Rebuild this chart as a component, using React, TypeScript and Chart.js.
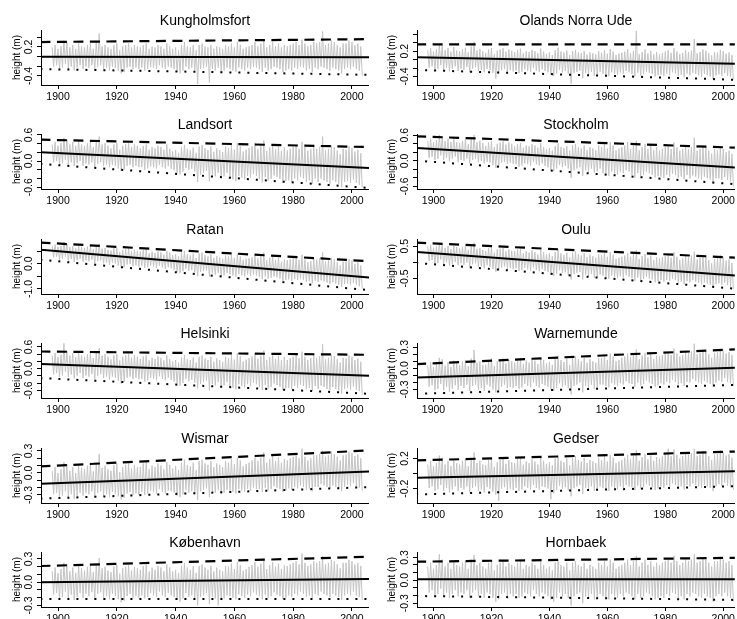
import React, { useEffect, useRef } from "react";
import { Chart, registerables } from "chart.js";

Chart.register(...registerables);

const FONT = '"Liberation Sans", Arial, Helvetica, sans-serif';

const STATIONS = [
  "Kungholmsfort", "Olands Norra Ude", "Landsort", "Stockholm", "Ratan", "Oulu",
  "Helsinki", "Warnemunde", "Wismar", "Gedser", "København", "Hornbaek",
];

const FIRST_YEAR = 1898; // first year of the grey series (one high and one low value per year)
const X_TICKS = [1900, 1920, 1940, 1960, 1980, 2000];
const LINE_YEARS = [1894, 2006];

// y-axis ranges (m)
const Y_MIN = [-0.59, -0.6, -0.64, -0.66, -1.2, -0.98, -0.81, -0.42, -0.41, -0.39, -0.32, -0.35];
const Y_MAX = [0.55, 0.7, 0.62, 0.63, 0.98, 0.72, 0.71, 0.36, 0.34, 0.34, 0.39, 0.37];

const T_02 = [-0.4, -0.2, 0, 0.2, 0.4];
const T_02B = [-0.4, -0.2, 0, 0.2, 0.4, 0.6];
const T_06 = [-0.6, -0.4, -0.2, 0, 0.2, 0.4, 0.6];
const T_05 = [-1, -0.5, 0, 0.5];
const T_05B = [-0.5, 0, 0.5];
const T_01 = [-0.3, -0.2, -0.1, 0, 0.1, 0.2, 0.3];
const T_02C = [-0.2, 0, 0.2];
const Y_TICKS = [T_02, T_02B, T_06, T_06, T_05, T_05B, T_06, T_01, T_01, T_02C, T_01, T_01];
const Y_LABELS = [
  [-0.4, 0.2], [-0.4, 0.2], [-0.6, 0, 0.6], [-0.6, 0, 0.6], [-1, 0], [-0.5, 0.5],
  [-0.6, 0, 0.6], [-0.3, 0, 0.3], [-0.3, 0, 0.3], [-0.2, 0.2], [-0.3, 0, 0.3], [-0.3, 0, 0.3],
];

// fitted trend (solid), upper (dashed) and lower (dotted) lines, values at 1894 and 2006 (m)
const TREND_START = [-0.005, 0.055, 0.2, 0.304, 0.56, 0.32, 0.127, -0.129, -0.147, -0.054, -0.001, 0.013];
const TREND_END = [-0.015, -0.1, -0.157, -0.165, -0.546, -0.42, -0.196, 0.013, 0.021, 0.033, 0.041, 0.013];
const UPPER_START = [0.3, 0.36, 0.49, 0.576, 0.84, 0.61, 0.475, 0.061, 0.089, 0.175, 0.209, 0.243];
const UPPER_END = [0.36, 0.36, 0.32, 0.304, 0.1, 0.136, 0.384, 0.273, 0.307, 0.295, 0.329, 0.295];
const LOWER_START = [-0.26, -0.245, -0.065, 0.006, 0.16, -0.019, -0.26, -0.36, -0.351, -0.276, -0.217, -0.206];
const LOWER_END = [-0.38, -0.48, -0.617, -0.557, -1.05, -0.83, -0.694, -0.233, -0.193, -0.166, -0.217, -0.258];

// grey series, cm: yearly high and low values 1898-2003
const KUNG_HI = [19,24,16,21,33,30,19,24,16,27,21,19,24,27,16,30,48,21,24,19,16,24,27,13,21,24,27,19,24,21,19,24,27,16,21,19,24,21,16,27,21,16,19,13,24,30,21,19,24,13,24,27,21,19,24,16,21,19,16,24,21,27,19,30,24,16,19,21,24,30,21,27,35,19,24,30,21,27,19,24,21,24,27,30,24,35,27,21,24,30,27,30,52,24,27,33,30,24,19,27,27,33,30,24,27,21];
const KUNG_LO = [-21,-18,-26,-23,-15,-26,-21,-29,-23,-18,-26,-21,-23,-18,-29,-21,-18,-26,-23,-29,-21,-23,-29,-35,-32,-23,-21,-26,-23,-26,-23,-29,-26,-21,-23,-26,-18,-23,-26,-21,-23,-26,-32,-35,-29,-21,-26,-23,-29,-57,-26,-23,-21,-54,-26,-29,-23,-32,-29,-23,-26,-29,-32,-23,-26,-29,-23,-26,-21,-23,-26,-32,-23,-29,-26,-21,-23,-26,-32,-29,-26,-29,-23,-26,-21,-23,-29,-26,-32,-23,-26,-21,-23,-26,-29,-23,-26,-29,-35,-26,-23,-26,-21,-26,-29,-40];
const OLANDS_HI = [22,27,19,24,36,33,22,27,19,30,22,20,25,28,17,31,42,22,25,20,16,24,27,13,21,24,27,19,24,21,18,23,26,15,20,18,23,20,15,26,19,14,17,11,22,28,19,17,22,11,20,23,17,15,20,12,17,15,12,20,16,22,14,25,19,11,14,16,19,25,15,21,68,13,18,24,15,21,13,18,13,16,19,22,16,27,19,13,16,22,18,21,48,15,18,24,21,15,10,18,17,23,20,14,17,11];
const OLANDS_LO = [-19,-16,-25,-22,-13,-25,-19,-28,-22,-16,-27,-21,-24,-18,-30,-21,-18,-27,-24,-30,-22,-25,-31,-45,-34,-25,-22,-28,-25,-28,-26,-32,-29,-23,-26,-29,-20,-26,-29,-23,-27,-30,-36,-39,-33,-24,-30,-27,-33,-57,-32,-29,-26,-44,-32,-35,-29,-38,-35,-29,-33,-36,-39,-30,-33,-36,-30,-33,-27,-30,-34,-40,-31,-37,-34,-28,-31,-34,-40,-37,-36,-39,-33,-36,-30,-33,-39,-36,-42,-33,-37,-31,-34,-37,-40,-34,-37,-40,-46,-37,-35,-38,-32,-38,-41,-47];
const LANDSORT_HI = [38,44,35,41,53,50,38,44,35,47,38,35,41,44,32,47,56,38,41,35,29,38,41,26,35,38,41,32,38,35,29,35,38,26,32,29,35,32,26,38,28,22,25,19,31,37,28,25,31,19,33,37,29,25,33,21,29,25,21,33,30,38,26,42,34,22,26,30,34,42,27,35,47,23,31,39,27,35,23,31,24,28,32,36,28,44,32,24,28,36,28,32,56,24,28,36,32,24,16,28,26,34,30,22,26,18];
const LANDSORT_LO = [-3,0,-8,-5,3,-8,-3,-11,-5,0,-11,-6,-8,-3,-14,-6,-3,-11,-8,-14,-9,-11,-17,-23,-20,-11,-9,-14,-11,-14,-14,-20,-17,-12,-14,-17,-9,-14,-17,-12,-18,-21,-27,-30,-24,-16,-21,-18,-24,-48,-31,-27,-23,-47,-31,-35,-27,-39,-35,-27,-38,-42,-46,-34,-38,-42,-34,-38,-30,-34,-41,-49,-37,-45,-41,-33,-37,-41,-49,-45,-44,-48,-40,-44,-36,-40,-48,-44,-52,-40,-48,-40,-44,-48,-52,-44,-48,-52,-60,-48,-46,-50,-42,-50,-54,-60];
const STOCKHOLM_HI = [47,52,44,49,61,58,47,52,44,55,44,42,47,50,39,53,61,44,47,42,35,43,46,32,40,43,46,38,43,40,34,39,42,31,36,34,39,36,31,42,32,27,30,24,35,41,32,30,35,24,36,40,32,29,36,25,32,29,25,36,32,40,29,44,36,25,29,32,36,44,28,36,47,25,32,40,28,36,25,32,24,28,32,36,28,43,32,24,28,36,28,32,54,24,28,36,32,24,17,28,24,32,28,20,24,16];
const STOCKHOLM_LO = [7,10,2,5,13,2,7,-1,5,10,-3,2,0,5,-6,2,5,-3,0,-6,-2,-4,-10,-16,-13,-4,-2,-7,-4,-7,-8,-14,-11,-6,-8,-11,-3,-8,-11,-6,-12,-15,-21,-24,-18,-10,-15,-12,-18,-40,-22,-18,-15,-35,-22,-25,-18,-28,-25,-18,-29,-32,-35,-25,-29,-32,-25,-29,-22,-25,-33,-39,-29,-36,-33,-26,-29,-33,-39,-36,-37,-40,-33,-37,-30,-33,-40,-37,-43,-33,-41,-34,-37,-41,-44,-37,-41,-44,-51,-41,-41,-45,-38,-45,-48,-60];
const RATAN_HI = [72,76,67,71,86,78,66,70,61,71,67,63,68,70,57,71,79,60,62,55,52,62,64,46,55,58,60,49,55,50,48,54,57,41,48,43,49,45,36,50,44,35,38,29,44,51,38,33,40,23,41,44,34,29,37,23,30,25,20,32,29,37,22,40,29,15,18,22,25,34,21,30,44,13,22,31,15,24,8,17,14,18,22,26,15,35,17,6,10,20,17,22,45,9,13,23,17,5,-7,8,9,19,13,0,5,-7];
const RATAN_LO = [25,28,16,19,29,13,19,7,14,20,8,14,10,16,0,10,13,1,4,-5,5,1,-8,-17,-14,-3,-1,-9,-6,-11,-8,-17,-14,-8,-12,-17,-7,-15,-20,-14,-18,-23,-32,-37,-30,-20,-28,-25,-34,-50,-32,-29,-27,-50,-38,-43,-36,-49,-46,-37,-42,-47,-52,-41,-46,-51,-44,-49,-43,-47,-52,-61,-50,-59,-56,-50,-54,-59,-68,-65,-62,-67,-60,-65,-59,-63,-72,-69,-78,-67,-72,-66,-70,-75,-80,-73,-78,-83,-92,-81,-78,-83,-76,-84,-89,-99];
const OULU_HI = [49,54,45,49,61,57,45,50,41,51,47,43,48,51,38,52,61,42,44,38,35,44,47,30,40,42,44,34,40,36,34,40,42,28,34,30,37,32,24,38,32,24,27,19,32,40,28,23,30,15,30,34,25,21,28,16,23,19,14,25,22,29,17,32,23,11,14,17,21,28,17,25,37,10,19,26,13,21,7,15,12,16,19,23,14,31,17,7,12,19,16,21,33,9,14,22,17,7,-3,10,12,21,15,5,9,-2];
const OULU_LO = [4,7,-4,-2,9,-6,0,-11,-5,1,-9,-3,-8,-1,-16,-6,-3,-14,-12,-19,-9,-14,-21,-29,-26,-16,-13,-20,-18,-22,-19,-27,-24,-17,-22,-26,-16,-24,-28,-21,-26,-30,-38,-42,-36,-25,-33,-31,-38,-53,-36,-33,-30,-53,-38,-43,-36,-48,-45,-38,-42,-47,-51,-41,-45,-49,-43,-47,-40,-45,-49,-57,-47,-55,-51,-45,-50,-53,-62,-59,-55,-60,-54,-57,-51,-55,-63,-60,-68,-58,-62,-55,-60,-64,-68,-62,-66,-70,-78,-68,-65,-69,-63,-70,-75,-83];
const HELSINKI_HI = [36,43,32,39,70,50,36,43,32,46,36,33,40,43,29,47,57,36,40,33,26,37,40,23,33,37,40,30,37,33,27,34,37,23,30,27,34,30,23,37,27,20,24,17,31,38,27,24,31,17,33,37,28,24,33,19,28,24,19,33,29,38,25,43,34,20,25,29,34,43,27,36,50,23,32,41,27,36,23,32,24,29,33,38,29,47,33,24,29,38,30,35,68,26,30,39,35,26,17,30,28,37,33,24,28,19];
const HELSINKI_LO = [-16,-12,-23,-19,-8,-23,-16,-27,-19,-12,-26,-19,-22,-15,-30,-19,-15,-26,-22,-30,-22,-25,-33,-41,-37,-25,-22,-29,-25,-29,-28,-36,-32,-25,-28,-32,-21,-28,-32,-25,-31,-35,-43,-47,-39,-28,-35,-31,-39,-54,-42,-37,-33,-60,-42,-46,-37,-51,-46,-37,-48,-52,-57,-43,-48,-52,-43,-48,-39,-43,-50,-59,-45,-54,-50,-41,-45,-50,-59,-54,-53,-57,-48,-53,-44,-48,-57,-53,-62,-48,-56,-47,-51,-56,-60,-51,-56,-60,-69,-56,-53,-58,-49,-58,-62,-72];
const WARN_HI = [4,9,2,7,15,13,4,9,2,11,8,5,10,12,3,14,26,8,10,5,5,12,14,3,10,12,14,7,12,10,8,13,15,6,11,8,13,11,6,15,12,7,9,5,14,18,12,9,14,5,15,17,13,10,15,8,13,10,8,15,15,19,12,21,17,10,12,15,17,21,16,20,27,13,18,22,16,20,13,18,17,19,21,23,19,28,21,17,19,23,22,24,35,20,22,26,24,20,15,22,23,27,25,21,23,19];
const WARN_LO = [-26,-24,-31,-29,-22,-31,-26,-33,-29,-24,-30,-25,-28,-23,-32,-25,-23,-30,-28,-32,-23,-26,-30,-34,-32,-26,-23,-28,-26,-28,-25,-29,-27,-22,-25,-27,-20,-25,-27,-22,-24,-26,-30,-32,-28,-21,-26,-24,-28,-37,-25,-23,-20,-34,-25,-27,-23,-29,-27,-23,-23,-25,-27,-21,-23,-25,-21,-23,-18,-21,-22,-26,-20,-24,-22,-17,-20,-22,-26,-24,-21,-23,-19,-21,-16,-19,-23,-21,-25,-19,-20,-15,-18,-20,-22,-18,-20,-22,-26,-20,-17,-19,-14,-19,-21,-25];
const WISMAR_HI = [3,8,0,5,15,12,3,8,0,10,7,5,10,12,2,14,26,7,10,5,3,11,13,1,8,11,13,6,11,8,8,13,15,5,10,8,13,10,5,15,11,6,9,4,14,18,11,9,14,4,16,18,13,11,16,8,13,11,8,16,14,19,12,21,17,9,12,14,17,21,16,21,28,14,19,23,16,21,14,19,17,20,22,24,20,33,22,17,20,24,24,26,30,22,24,29,26,22,17,24,25,29,27,23,25,20];
const WISMAR_LO = [-29,-27,-33,-31,-25,-33,-29,-35,-31,-27,-31,-27,-29,-25,-33,-27,-25,-31,-29,-33,-26,-28,-32,-36,-34,-28,-26,-30,-28,-30,-26,-30,-28,-24,-26,-28,-22,-26,-28,-24,-25,-27,-31,-33,-29,-23,-27,-25,-29,-37,-25,-23,-21,-33,-25,-27,-23,-29,-27,-23,-24,-26,-28,-22,-24,-26,-22,-24,-20,-22,-22,-26,-20,-24,-22,-18,-20,-22,-26,-24,-21,-23,-19,-21,-17,-19,-23,-21,-25,-19,-19,-15,-17,-19,-21,-17,-19,-21,-25,-19,-16,-18,-14,-18,-20,-24];
const GEDSER_HI = [12,17,10,14,24,21,12,17,10,19,14,12,17,19,10,21,28,14,17,12,11,18,20,9,15,18,20,13,18,15,14,19,21,12,16,14,19,16,12,21,17,13,15,11,20,24,17,15,20,11,21,23,18,16,21,14,18,16,14,21,18,23,16,25,21,14,16,18,21,25,19,24,31,17,22,26,19,24,17,22,20,23,25,33,23,32,25,20,23,27,25,27,33,23,25,30,27,23,18,25,26,31,28,24,26,21];
const GEDSER_LO = [-19,-17,-23,-21,-15,-23,-19,-25,-21,-17,-23,-19,-21,-17,-25,-19,-17,-23,-21,-25,-18,-20,-24,-28,-36,-20,-18,-22,-20,-22,-19,-23,-21,-17,-19,-21,-15,-19,-21,-17,-18,-20,-34,-26,-22,-16,-20,-18,-22,-30,-19,-17,-15,-27,-19,-21,-17,-23,-21,-17,-19,-21,-23,-17,-19,-21,-17,-19,-15,-17,-18,-22,-16,-20,-18,-14,-16,-18,-22,-20,-17,-19,-15,-17,-13,-15,-19,-17,-21,-15,-17,-13,-15,-17,-19,-15,-17,-19,-23,-17,-14,-16,-12,-16,-18,-22];
const KBH_HI = [14,19,12,17,25,23,14,19,12,21,18,15,20,22,13,24,31,18,20,15,13,20,22,11,18,20,22,15,20,18,16,21,23,14,19,16,21,19,14,23,19,14,16,12,21,25,19,16,21,12,21,23,19,16,21,14,19,16,14,21,20,24,17,26,22,15,17,20,22,26,20,24,31,17,22,26,20,24,17,22,21,23,25,27,23,37,25,21,23,27,25,27,34,23,25,29,27,23,18,25,25,29,27,23,25,21];
const KBH_LO = [-16,-14,-21,-19,-12,-21,-16,-23,-19,-14,-20,-15,-18,-13,-22,-15,-13,-20,-18,-22,-15,-18,-22,-26,-24,-18,-15,-20,-18,-20,-17,-21,-19,-14,-17,-19,-12,-17,-19,-14,-17,-19,-23,-25,-21,-14,-19,-17,-21,-30,-19,-17,-14,-28,-19,-21,-30,-23,-21,-17,-18,-20,-22,-16,-18,-20,-16,-18,-13,-16,-18,-22,-16,-20,-18,-13,-16,-18,-22,-20,-17,-19,-15,-17,-12,-15,-19,-17,-21,-15,-17,-12,-15,-17,-19,-15,-17,-19,-23,-17,-15,-17,-12,-17,-19,-23];
const HORN_HI = [18,23,15,20,34,27,18,23,15,25,20,18,23,25,15,27,33,20,23,18,15,23,25,13,20,23,25,18,23,20,18,23,25,15,20,18,23,20,15,25,20,15,18,13,23,27,20,18,23,13,23,25,20,18,23,15,20,18,15,23,20,25,18,27,23,15,18,20,23,27,20,25,32,18,23,27,20,25,18,23,20,23,25,27,23,32,25,20,23,27,25,27,34,23,25,30,27,23,18,25,25,30,27,23,25,20];
const HORN_LO = [-16,-13,-21,-18,-11,-21,-16,-23,-18,-13,-21,-16,-18,-13,-23,-16,-13,-21,-18,-23,-16,-18,-23,-28,-25,-18,-16,-21,-18,-21,-18,-23,-21,-16,-18,-21,-13,-18,-21,-16,-18,-21,-25,-28,-23,-16,-21,-18,-23,-33,-21,-18,-16,-30,-21,-23,-18,-25,-23,-18,-21,-23,-25,-18,-21,-23,-18,-21,-16,-18,-21,-25,-18,-23,-21,-16,-18,-21,-25,-23,-21,-23,-18,-21,-16,-18,-23,-21,-25,-18,-21,-16,-18,-21,-23,-18,-21,-23,-28,-21,-18,-21,-16,-21,-23,-28];

const HI = [KUNG_HI, OLANDS_HI, LANDSORT_HI, STOCKHOLM_HI, RATAN_HI, OULU_HI, HELSINKI_HI, WARN_HI, WISMAR_HI, GEDSER_HI, KBH_HI, HORN_HI];
const LO = [KUNG_LO, OLANDS_LO, LANDSORT_LO, STOCKHOLM_LO, RATAN_LO, OULU_LO, HELSINKI_LO, WARN_LO, WISMAR_LO, GEDSER_LO, KBH_LO, HORN_LO];

const ROW_PITCH = 104.4;
const CANVAS_H = 104;

function Panel({ idx }: { idx: number }) {
  const ref = useRef<HTMLCanvasElement | null>(null);
  const col = idx % 2;
  const row = Math.floor(idx / 2);
  const isRight = col === 1;
  const width = isRight ? 368 : 369;
  const left = isRight ? 369 : 0;
  const top = Math.round(row * ROW_PITCH);

  useEffect(() => {
    if (!ref.current) return;
    const axisW = isRight ? 48 : 41;
    const xMin = isRight ? 1894.3 : 1894.2;
    const xMax = isRight ? 2004.0 : 2005.8;
    const hi = HI[idx];
    const lo = LO[idx];
    const grey: { x: number; y: number }[] = [];
    for (let k = 0; k < hi.length; k++) {
      grey.push({ x: FIRST_YEAR + k, y: hi[k] / 100 });
      grey.push({ x: FIRST_YEAR + k + 0.5, y: lo[k] / 100 });
    }
    const line = (a: number, b: number) => [
      { x: LINE_YEARS[0], y: a },
      { x: LINE_YEARS[1], y: b },
    ];
    const labels = Y_LABELS[idx];
    const axisGrid = {
      drawOnChartArea: false,
      drawTicks: true,
      tickLength: 4,
      color: "#000",
      lineWidth: 1,
    };
    const chart = new Chart(ref.current, {
      type: "line",
      data: {
        datasets: [
          { data: line(TREND_START[idx], TREND_END[idx]), borderColor: "#000", borderWidth: 2, pointRadius: 0, order: 1 },
          { data: line(UPPER_START[idx], UPPER_END[idx]), borderColor: "#000", borderWidth: 2.2, borderDash: [10, 6.5], pointRadius: 0, order: 1 },
          { data: line(LOWER_START[idx], LOWER_END[idx]), borderColor: "#000", borderWidth: 2, borderDash: [2, 7], pointRadius: 0, order: 1 },
          { data: grey, borderColor: "#c4c4c4", borderWidth: 1, pointRadius: 0, order: 2 },
        ],
      },
      options: {
        responsive: false,
        animation: false,
        events: [],
        layout: { padding: 0 },
        elements: { line: { tension: 0 } },
        plugins: {
          legend: { display: false },
          tooltip: { enabled: false },
          title: {
            display: true,
            text: STATIONS[idx],
            fullSize: false,
            color: "#000",
            font: { family: FONT, size: 14, weight: "normal", lineHeight: 1.2 },
            padding: { top: 13.2, bottom: 0 },
          },
        },
        scales: {
          x: {
            type: "linear",
            min: xMin,
            max: xMax,
            afterBuildTicks: (s: any) => {
              s.ticks = X_TICKS.map((v) => ({ value: v }));
            },
            afterFit: (s: any) => {
              s.height = CANVAS_H - 85;
            },
            grid: axisGrid,
            border: { display: true, color: "#000", width: 1 },
            ticks: {
              color: "#000",
              font: { family: FONT, size: 10.5 },
              padding: 2,
              minRotation: 0,
              maxRotation: 0,
              autoSkip: false,
              callback: (v: any) => String(v),
            },
          },
          y: {
            type: "linear",
            min: Y_MIN[idx],
            max: Y_MAX[idx],
            afterBuildTicks: (s: any) => {
              s.ticks = Y_TICKS[idx].map((v) => ({ value: v }));
            },
            afterFit: (s: any) => {
              s.width = axisW;
            },
            grid: axisGrid,
            border: { display: true, color: "#000", width: 1 },
            ticks: {
              color: "#000",
              font: { family: FONT, size: 10.5 },
              padding: -1.3,
              minRotation: 90,
              maxRotation: 90,
              crossAlign: "center",
              autoSkip: false,
              callback: (v: any) =>
                labels.some((l) => Math.abs(l - Number(v)) < 1e-9) ? Number(v).toFixed(1) : "",
            },
            title: {
              display: true,
              text: "height (m)",
              color: "#000",
              font: { family: FONT, size: 10, lineHeight: 1.2 },
              padding: { top: isRight ? 17 : 11, bottom: 0 },
            },
          },
        },
      },
    } as any);
    return () => chart.destroy();
  }, [idx]);

  return (
    <canvas
      ref={ref}
      width={width}
      height={CANVAS_H}
      style={{ position: "absolute", left, top, width, height: CANVAS_H, display: "block" }}
    />
  );
}

export default function App() {
  return (
    <div
      style={{
        position: "fixed",
        left: 0,
        top: 0,
        width: 737,
        height: 619,
        background: "#fff",
        overflow: "hidden",
      }}
    >
      {STATIONS.map((_, i) => (
        <Panel key={i} idx={i} />
      ))}
    </div>
  );
}
